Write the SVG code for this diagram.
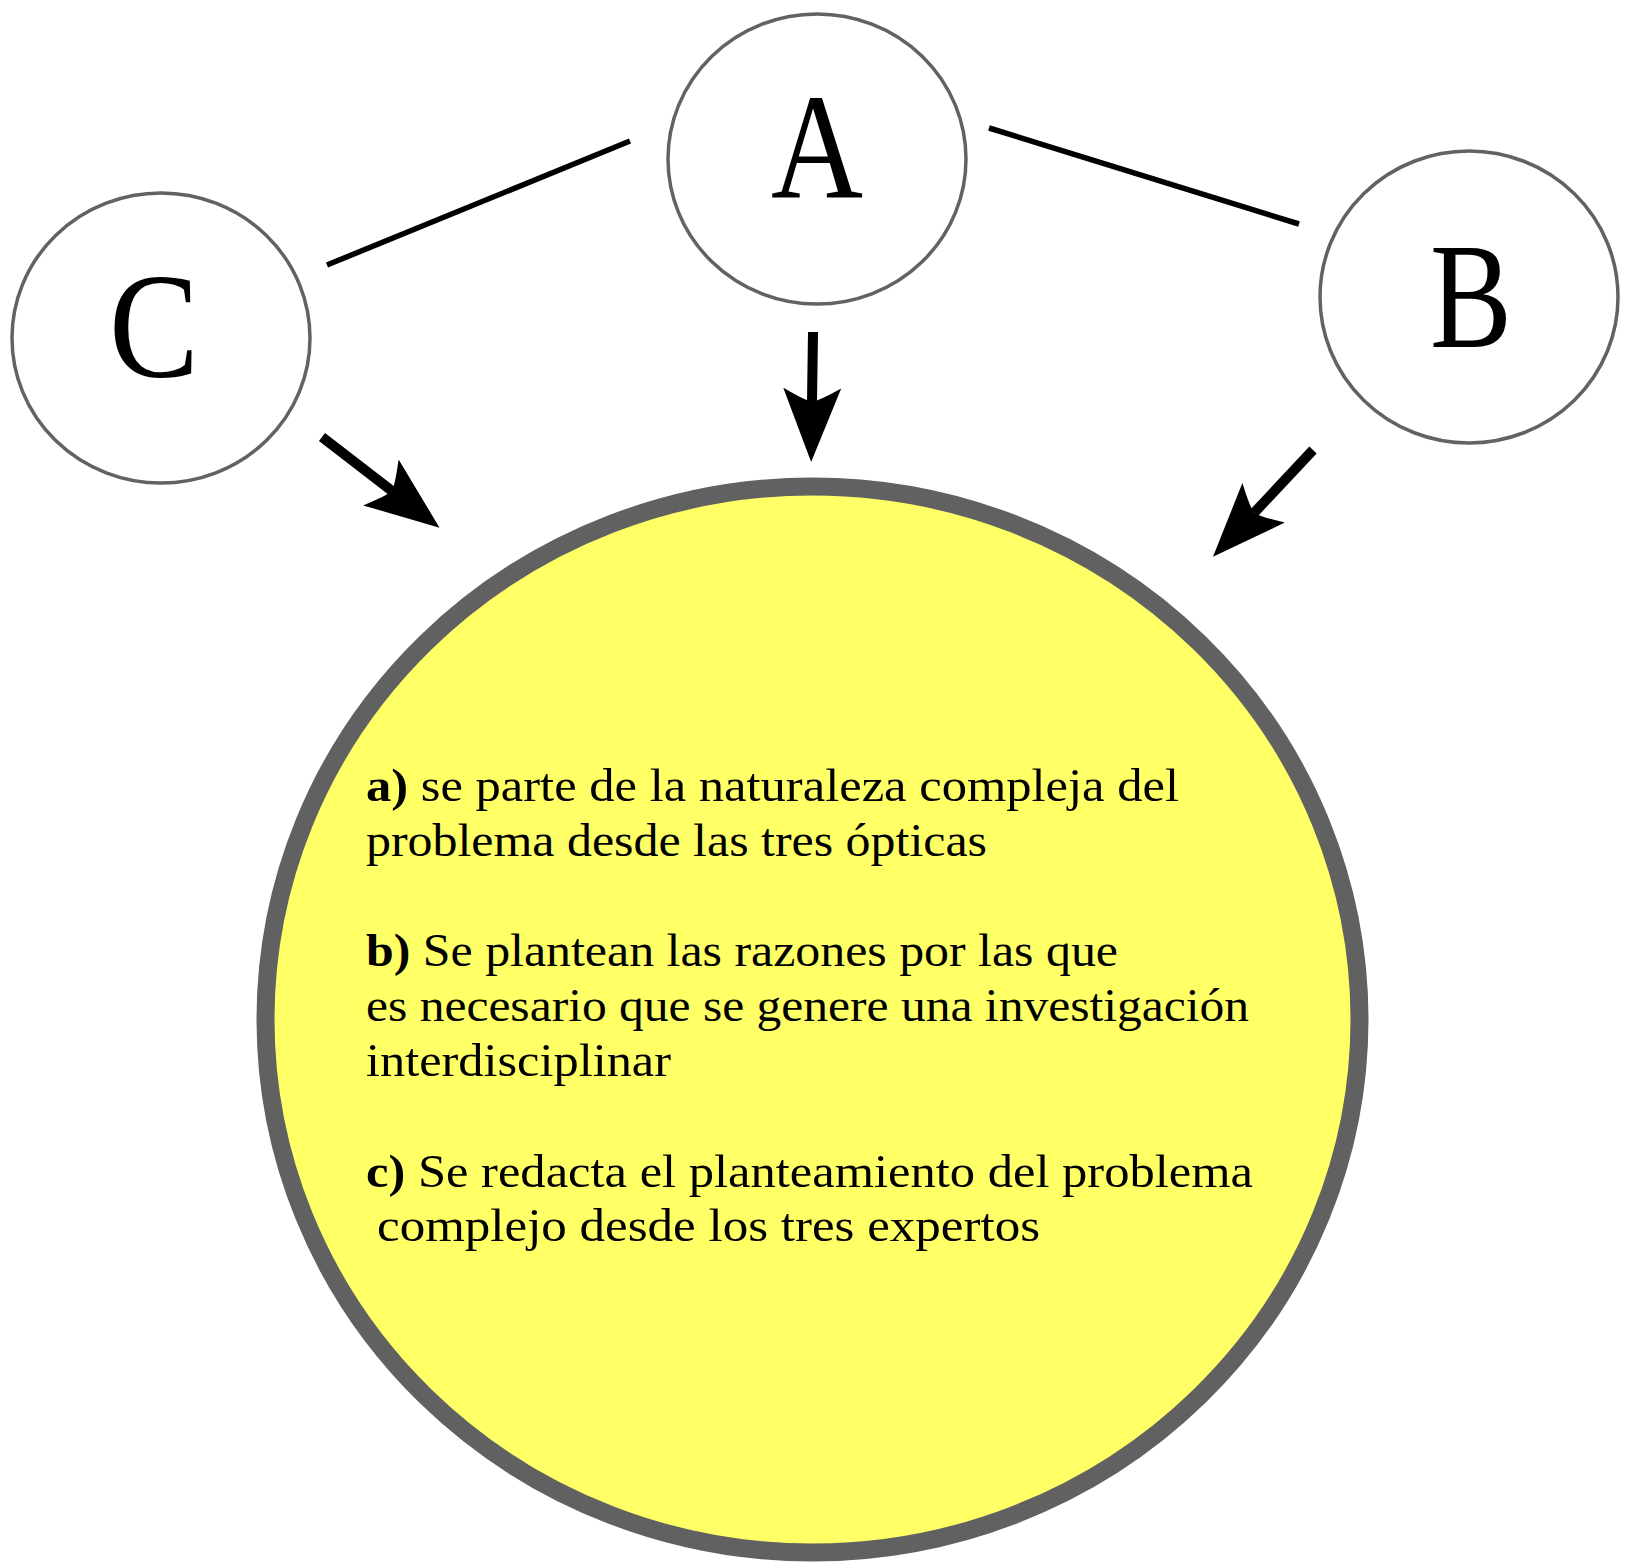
<svg xmlns="http://www.w3.org/2000/svg" width="1627" height="1563" viewBox="0 0 1627 1563">
  <defs>
    <style>
      .node { fill: #ffffff; stroke: #626262; stroke-width: 3.5; }
      .letter { font-family: "Liberation Serif", "Times New Roman", serif; font-size: 150px; fill: #000000; text-anchor: middle; }
      .edge { stroke: #000000; stroke-width: 5.5; fill: none; }
      .arrow { stroke: #000000; stroke-width: 10; fill: none; marker-end: url(#head); }
      .body { font-family: "Liberation Serif", "Times New Roman", serif; font-size: 46px; fill: #000000; }
      .b { font-weight: bold; }
    </style>
    <marker id="head" markerUnits="userSpaceOnUse" viewBox="0 -32 76 64" refX="14" refY="0" markerWidth="76" markerHeight="64" orient="auto">
      <path d="M74,0 L0,-29 Q12,-8 14,0 Q12,8 0,29 Z" fill="#000000"/>
    </marker>
  </defs>

  <g id="connectors">
    <line class="edge" x1="327" y1="265" x2="630" y2="141"/>
    <line class="edge" x1="989" y1="128" x2="1299" y2="224"/>
    <line class="arrow" x1="813" y1="332" x2="812" y2="402"/>
    <line class="arrow" x1="322" y1="437" x2="392" y2="491"/>
    <line class="arrow" x1="1313" y1="450" x2="1254" y2="513"/>
  </g>

  <g id="node-A">
    <ellipse class="node" cx="817" cy="159" rx="149" ry="145"/>
    <text class="letter" x="817" y="197" textLength="92" lengthAdjust="spacingAndGlyphs">A</text>
  </g>
  <g id="node-C">
    <ellipse class="node" cx="161" cy="338" rx="149" ry="145"/>
    <text class="letter" x="154" y="377" textLength="90" lengthAdjust="spacingAndGlyphs">C</text>
  </g>
  <g id="node-B">
    <ellipse class="node" cx="1469" cy="297" rx="149" ry="146"/>
    <text class="letter" x="1471" y="347" textLength="82" lengthAdjust="spacingAndGlyphs">B</text>
  </g>

  <g id="node-main">
    <ellipse cx="812.5" cy="1019.5" rx="547" ry="533" fill="#ffff66" stroke="#616161" stroke-width="18"/>
    <text class="body" x="366" y="801" textLength="813" lengthAdjust="spacingAndGlyphs"><tspan class="b">a)</tspan> se parte de la naturaleza compleja del</text>
    <text class="body" x="366" y="856" textLength="621" lengthAdjust="spacingAndGlyphs">problema desde las tres ópticas</text>
    <text class="body" x="366" y="966" textLength="752" lengthAdjust="spacingAndGlyphs"><tspan class="b">b)</tspan> Se plantean las razones por las que</text>
    <text class="body" x="366" y="1021" textLength="883" lengthAdjust="spacingAndGlyphs">es necesario que se genere una investigación</text>
    <text class="body" x="366" y="1076" textLength="305" lengthAdjust="spacingAndGlyphs">interdisciplinar</text>
    <text class="body" x="366" y="1187" textLength="887" lengthAdjust="spacingAndGlyphs"><tspan class="b">c)</tspan> Se redacta el planteamiento del problema</text>
    <text class="body" x="377" y="1241" textLength="663" lengthAdjust="spacingAndGlyphs">complejo desde los tres expertos</text>
  </g>
</svg>
